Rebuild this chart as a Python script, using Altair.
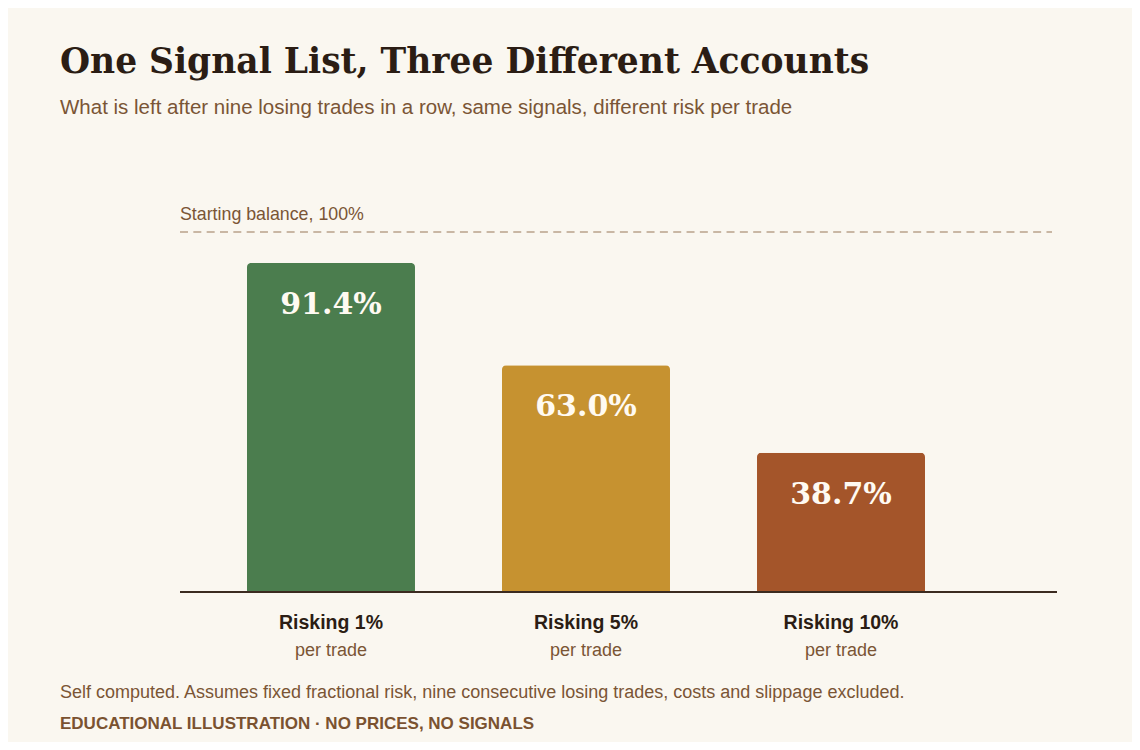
import altair as alt
import pandas as pd

# ---- data ----
categories = ["Risking 1%", "Risking 5%", "Risking 10%"]
remaining = [91.4, 63.0, 38.7]
sublabels = ["per trade", "per trade", "per trade"]
bar_colors = ["#4b7d4e", "#c69230", "#a4552a"]

TITLE = "One Signal List, Three Different Accounts"
SUBTITLE = "What is left after nine losing trades in a row, same signals, different risk per trade"
REF_LABEL = "Starting balance, 100%"
NOTE = "Self computed. Assumes fixed fractional risk, nine consecutive losing trades, costs and slippage excluded."
TAG = "EDUCATIONAL ILLUSTRATION · NO PRICES, NO SIGNALS"

df = pd.DataFrame({
    "cat": categories,
    "val": remaining,
    "lbl": [f"{v:.1f}%" for v in remaining],
    "sub": sublabels,
})

BG = "#faf7f0"
DARK = "#2b1d14"
BROWN = "#7a5535"
SERIF = "DejaVu Serif"
SANS = "Liberation Sans"

W, H = 877, 360

xscale = alt.Scale(domain=categories, range=[67, 745], paddingInner=0.3412, paddingOuter=0)
x_enc = alt.X("cat:N", scale=xscale, axis=None)
yscale = alt.Scale(domain=[0, 100], nice=False)
y_enc = alt.Y("val:Q", scale=yscale, axis=None)

bars = alt.Chart(df).mark_bar(cornerRadiusTopLeft=4, cornerRadiusTopRight=4).encode(
    x=x_enc,
    y=y_enc,
    color=alt.Color("cat:N", scale=alt.Scale(domain=categories, range=bar_colors), legend=None),
)

values = alt.Chart(df).mark_text(
    font=SERIF, fontWeight="bold", fontSize=30, color="#fffaf2", baseline="middle", dy=42
).encode(x=x_enc, y=y_enc, text="lbl:N")

cat_labels = alt.Chart(df).mark_text(
    font=SANS, fontWeight="bold", fontSize=19.5, color=DARK, baseline="alphabetic"
).encode(x=x_enc, y=alt.value(397), text="cat:N")

sub_labels = alt.Chart(df).mark_text(
    font=SANS, fontSize=18, color=BROWN, baseline="alphabetic"
).encode(x=x_enc, y=alt.value(424), text="sub:N")

ref_rule = alt.Chart(pd.DataFrame({"val": [100]})).mark_rule(
    color="#b9a38b", strokeWidth=1.5, strokeDash=[8, 5.33]
).encode(y=y_enc, x=alt.value(0), x2=alt.value(872))

base_rule = alt.Chart(pd.DataFrame({"val": [0]})).mark_rule(
    color="#3b2b20", strokeWidth=2
).encode(y=y_enc, x=alt.value(0), x2=alt.value(W))

def txt(s, x, y, **kw):
    return alt.Chart(pd.DataFrame({"t": [s]})).mark_text(
        align="left", baseline="alphabetic", **kw
    ).encode(text="t:N", x=alt.value(x), y=alt.value(y))

title = txt(TITLE, -120, -159, font=SERIF, fontWeight="bold", fontSize=34.5, color=DARK)
subtitle = txt(SUBTITLE, -120, -118, font=SANS, fontSize=20.5, color=BROWN)
ref_text = txt(REF_LABEL, 0, -12, font=SANS, fontSize=17.8, color=BROWN)
note = txt(NOTE, -120, 466, font=SANS, fontSize=18, color=BROWN)
tag = txt(TAG, -120, 497, font=SANS, fontWeight="bold", fontSize=17, color="#7a5230")

chart = alt.layer(
    ref_rule, bars, base_rule, values, cat_labels, sub_labels,
    title, subtitle, ref_text, note, tag,
).properties(
    width=W, height=H,
    background=BG,
    autosize=alt.AutoSizeParams(type="none"),
    padding={"left": 172, "top": 224, "right": 75, "bottom": 150},
).configure_view(stroke=None)

chart.save("out.html", embed_options={"renderer": "svg", "actions": False})
